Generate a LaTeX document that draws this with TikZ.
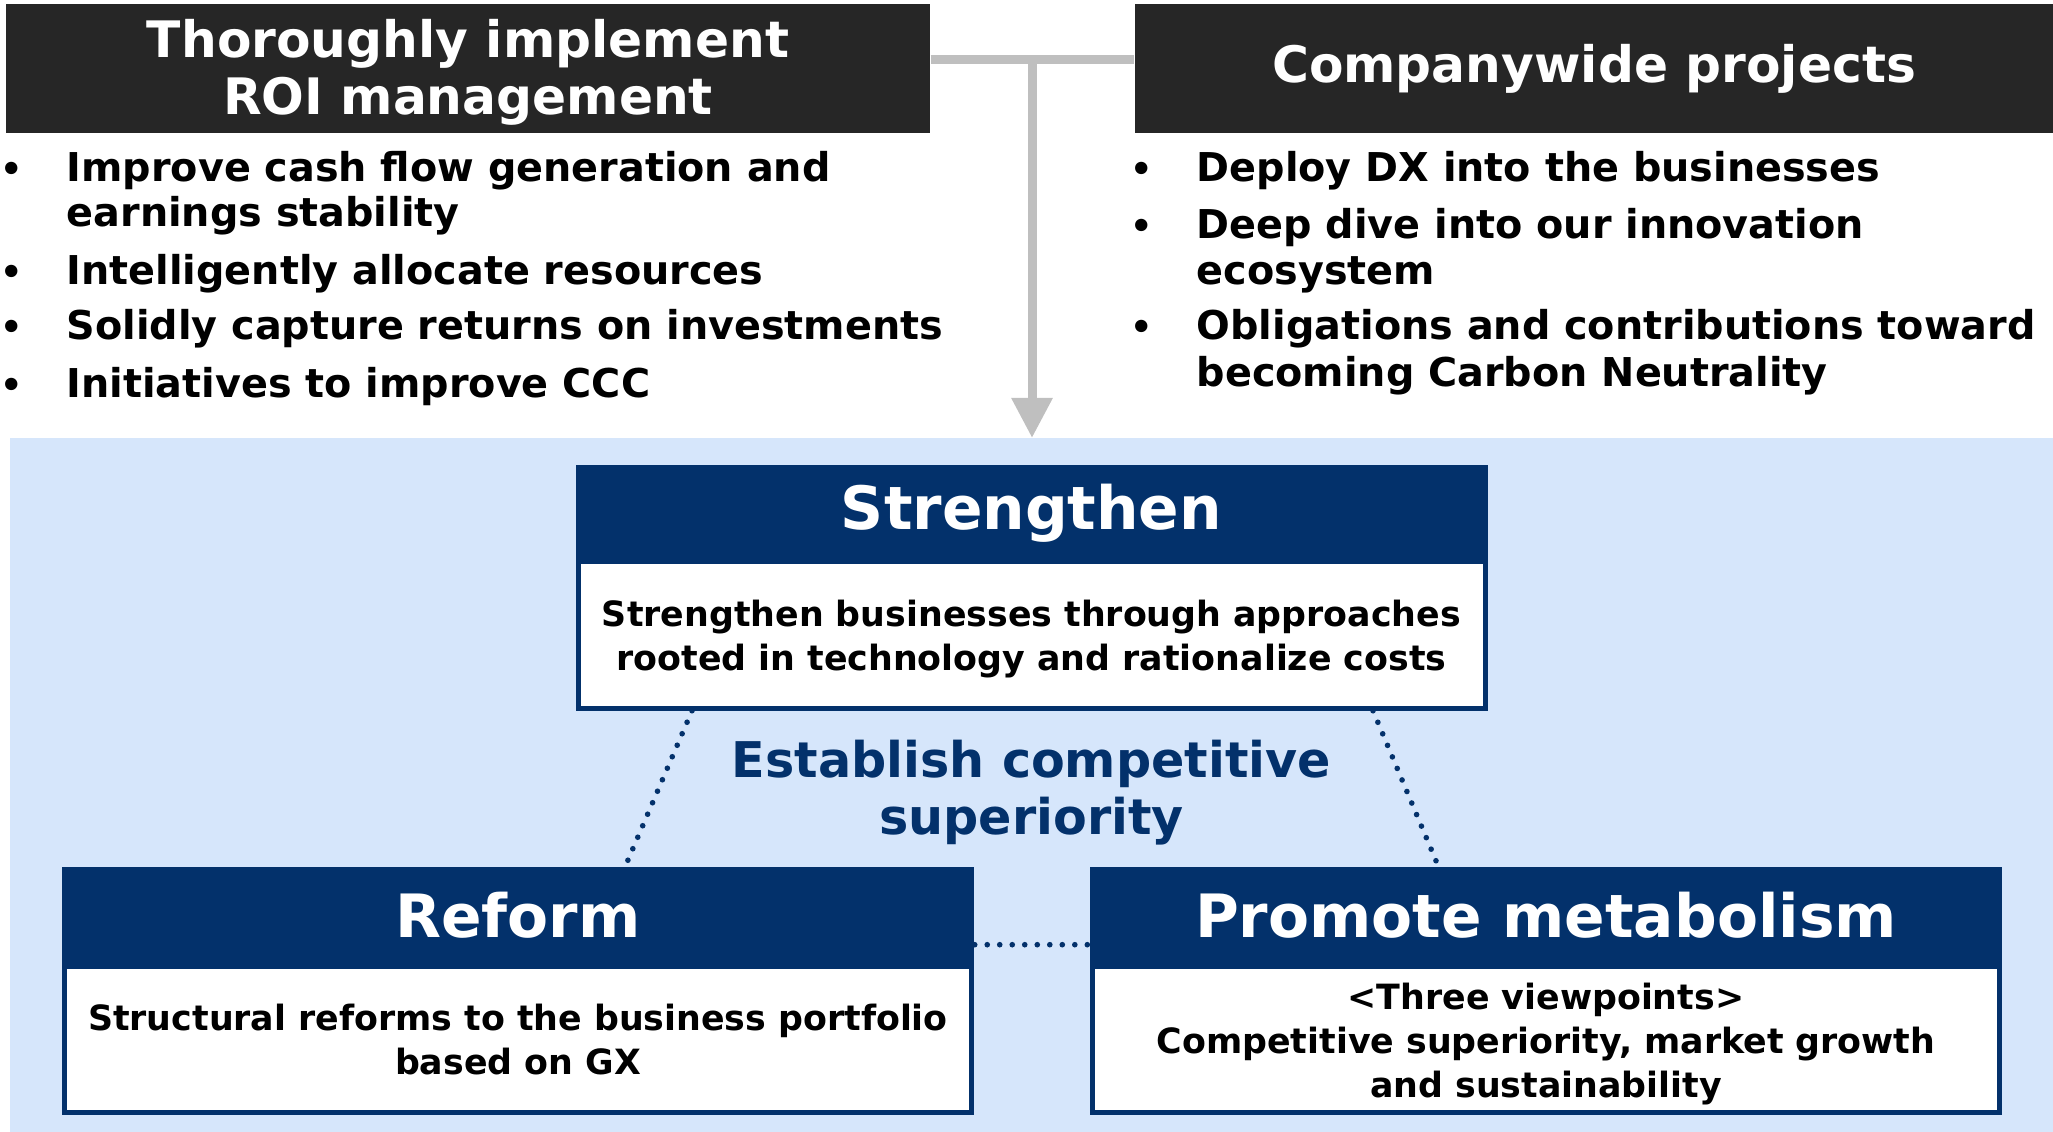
\documentclass[tikz,border=0pt]{standalone}
\usepackage{fontspec}
\setmainfont{DejaVu Sans}
\usetikzlibrary{arrows.meta}

\definecolor{navy}{HTML}{03316B}
\definecolor{darkbox}{HTML}{262626}
\definecolor{paleblue}{HTML}{D6E6FB}
\definecolor{linkgray}{HTML}{BFBFBF}

\begin{document}
\begin{tikzpicture}[
    topbox/.style={fill=darkbox, text=white, inner sep=0pt, align=center,
        minimum height=1.29cm, font=\fontsize{14.3}{16.1}\selectfont\bfseries},
    item/.style={anchor=base west, inner sep=0pt, font=\fontsize{11.3}{13}\selectfont\bfseries},
    dot/.style={anchor=base, inner sep=0pt, font=\fontsize{10}{12}\selectfont\bfseries},
    headbar/.style={fill=navy, text=white, inner sep=0pt, minimum width=9.12cm,
        minimum height=0.97cm, font=\fontsize{17}{20}\selectfont\bfseries},
    bodybox/.style={fill=white, draw=navy, line width=0.05cm, inner sep=0pt,
        minimum width=9.07cm, minimum height=1.465cm, align=center,
        font=\fontsize{9.9}{12.6}\selectfont\bfseries},
    link/.style={draw=linkgray, line width=0.09cm},
    dotline/.style={draw=navy, line width=1.6pt, line cap=round,
        dash pattern=on 0pt off 3.56pt}
]
    \useasboundingbox (0, 0) rectangle (20.53, 11.32);
    \fill[paleblue] (0.10, 0) rectangle (20.53, 6.94);

    % top part
    \node[topbox, minimum width=9.24cm] (roi) at (4.68, 10.635)
        {\rule{0pt}{0.46cm}Thoroughly implement\\ROI management};
    \node[topbox, minimum width=9.18cm] (proj) at (15.94, 10.635)
        {Companywide projects};

    \coordinate (fork) at (10.32, 10.72);
    \coordinate (tip) at (10.32, 6.94);
    \draw[link] (roi.east |- fork) -- (proj.west |- fork);
    \draw[link, -{Triangle[width=0.39cm, length=0.40cm]}] (fork) -- (tip);

    \node[dot] (roiD1) at (0.12, 9.503) {•};
    \node[dot] (roiD2) at (0.12, 8.47) {•};
    \node[dot] (roiD3) at (0.12, 7.92) {•};
    \node[dot] (roiD4) at (0.12, 7.34) {•};
    \node[item] (roi1) at (0.66, 9.503) {Improve cash flow generation and};
    \node[item] (roi1b) at (0.66, 9.053) {earnings stability};
    \node[item] (roi2) at (0.66, 8.47) {Intelligently allocate resources};
    \node[item] (roi3) at (0.66, 7.92) {Solidly capture returns on investments};
    \node[item] (roi4) at (0.66, 7.34) {Initiatives to improve CCC};

    \node[dot] (projD1) at (11.42, 9.503) {•};
    \node[dot] (projD2) at (11.42, 8.937) {•};
    \node[dot] (projD3) at (11.42, 7.92) {•};
    \node[item] (proj1) at (11.96, 9.503) {Deploy DX into the businesses};
    \node[item] (proj2) at (11.96, 8.937) {Deep dive into our innovation};
    \node[item] (proj2b) at (11.96, 8.47) {ecosystem};
    \node[item] (proj3) at (11.96, 7.92) {Obligations and contributions toward};
    \node[item] (proj3b) at (11.96, 7.453) {becoming Carbon Neutrality};

    % three boxes
    \node[headbar] (strH) at (10.315, 6.185) {Strengthen};
    \node[bodybox] (strB) at (10.315, 4.97)
        {\rule{0pt}{0.35cm}Strengthen businesses through approaches\\rooted in technology and rationalize costs};

    \node[headbar] (refH) at (5.18, 2.165) {Reform};
    \node[bodybox] (refB) at (5.18, 0.9225)
        {Structural reforms to the business portfolio\\based on GX};

    \node[headbar] (proH) at (15.46, 2.165) {Promote metabolism};
    \node[bodybox] (proB) at (15.46, 0.9225)
        {\rule{0pt}{0.35cm}<Three viewpoints>\\Competitive superiority, market growth\\and sustainability};

    \node[align=center, text=navy, font=\fontsize{14}{16.2}\selectfont\bfseries]
        (goal) at (10.315, 3.39) {Establish competitive\\superiority};

    \draw[dotline] ([xshift=1.165cm]strB.south west) -- ([xshift=5.64cm]refH.north west);
    \draw[dotline] ([xshift=-1.145cm]strB.south east) -- ([xshift=3.49cm]proH.north west);
    \draw[dotline] ([yshift=0.2cm]refH.south east) -- ([yshift=0.2cm]proH.south west);
\end{tikzpicture}
\end{document}
